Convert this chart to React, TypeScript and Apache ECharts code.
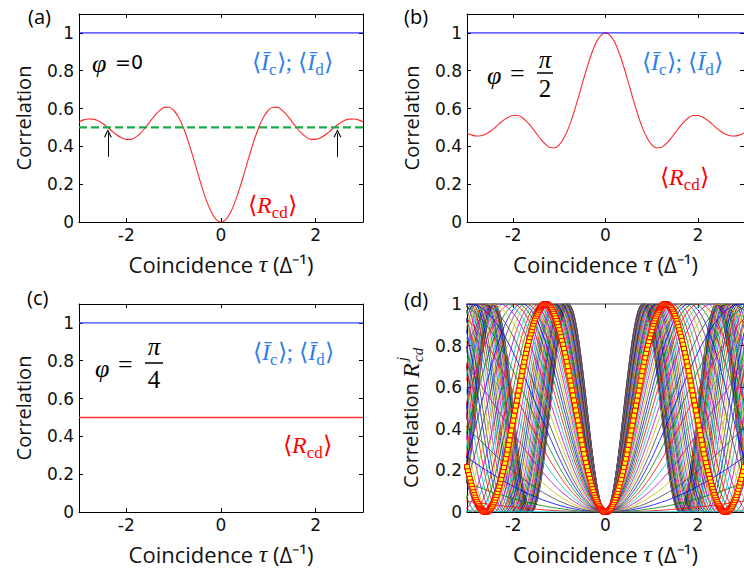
import React, { useEffect, useRef } from "react";
import * as echarts from "echarts";

// ---------- data ----------
const TAU = [
  -3.0, -2.9, -2.8, -2.7, -2.6, -2.5, -2.4, -2.3, -2.2, -2.1, -2.0, -1.9, -1.8, -1.7, -1.6, -1.5,
  -1.4, -1.3, -1.2, -1.1, -1.0, -0.9, -0.8, -0.7, -0.6, -0.5, -0.4, -0.3, -0.2, -0.1, 0.0, 0.1,
  0.2, 0.3, 0.4, 0.5, 0.6, 0.7, 0.8, 0.9, 1.0, 1.1, 1.2, 1.3, 1.4, 1.5, 1.6, 1.7, 1.8, 1.9, 2.0,
  2.1, 2.2, 2.3, 2.4, 2.5, 2.6, 2.7, 2.8, 2.9, 3.0,
];
// (a) phi = 0 : <R_cd>
const R_PHI0 = [
  0.529, 0.540, 0.545, 0.544, 0.536, 0.521, 0.502, 0.480, 0.460, 0.445, 0.437, 0.437, 0.449, 0.470,
  0.498, 0.531, 0.563, 0.589, 0.606, 0.607, 0.591, 0.555, 0.502, 0.432, 0.352, 0.266, 0.183, 0.109,
  0.050, 0.013, 0.000, 0.013, 0.050, 0.109, 0.183, 0.266, 0.352, 0.432, 0.502, 0.555, 0.591, 0.607,
  0.606, 0.589, 0.563, 0.531, 0.498, 0.470, 0.449, 0.437, 0.437, 0.445, 0.460, 0.480, 0.502, 0.521,
  0.536, 0.544, 0.545, 0.540, 0.529,
];
// (b) phi = pi/2 : <R_cd>
const R_PHI_HALF = [
  0.471, 0.460, 0.455, 0.456, 0.464, 0.479, 0.498, 0.520, 0.540, 0.555, 0.563, 0.563, 0.551, 0.530,
  0.502, 0.469, 0.437, 0.411, 0.394, 0.393, 0.409, 0.445, 0.498, 0.568, 0.648, 0.734, 0.817, 0.891,
  0.950, 0.987, 1.000, 0.987, 0.950, 0.891, 0.817, 0.734, 0.648, 0.568, 0.498, 0.445, 0.409, 0.393,
  0.394, 0.411, 0.437, 0.469, 0.502, 0.530, 0.551, 0.563, 0.563, 0.555, 0.540, 0.520, 0.498, 0.479,
  0.464, 0.456, 0.455, 0.460, 0.471,
];
const TAU_SPAN = [-3, 3];
const I_MEAN = [1, 1];
const HALF_LEVEL = [0.5, 0.5];
const R_PHI_QUARTER = [0.5, 0.5];
const ARROW_TAU = [-2.39, 2.46];
const ARROW_Y = [0.345, 0.47];

// (d) one rising half-lobe of the highlighted R_cd^j curve, read every 0.02 in tau (0 .. 1.30)
const LOBE_STEP = 0.02;
const LOBE = [
  0.000, 0.001, 0.002, 0.005, 0.009, 0.015, 0.021, 0.028, 0.037, 0.047, 0.057, 0.069, 0.082, 0.095,
  0.110, 0.126, 0.142, 0.159, 0.178, 0.196, 0.216, 0.236, 0.257, 0.278, 0.300, 0.323, 0.345, 0.369,
  0.392, 0.416, 0.440, 0.464, 0.488, 0.512, 0.536, 0.560, 0.584, 0.608, 0.631, 0.655, 0.677, 0.700,
  0.722, 0.743, 0.764, 0.784, 0.804, 0.822, 0.841, 0.858, 0.874, 0.890, 0.905, 0.918, 0.931, 0.943,
  0.953, 0.963, 0.972, 0.979, 0.985, 0.991, 0.995, 0.998, 0.999, 1.000,
];
// tau of the first maximum of each curve j in panel (d)
const FAMILY_PEAKS = [
  0.800, 0.801, 0.802, 0.803, 0.806, 0.808, 0.812, 0.816, 0.820, 0.825, 0.831, 0.838, 0.845, 0.853,
  0.861, 0.871, 0.881, 0.892, 0.904, 0.917, 0.931, 0.946, 0.962, 0.980, 0.998, 1.019, 1.041, 1.064,
  1.089, 1.117, 1.146, 1.179, 1.213, 1.251, 1.292, 1.337, 1.386, 1.440, 1.499, 1.565, 1.637, 1.718,
  1.809, 1.911, 2.027, 2.159, 2.311, 2.489, 2.698, 2.947, 3.250, 3.625, 4.101, 4.724, 5.575, 6.806,
  8.743, 12.23, 20.38, 61.1,
];
const HIGHLIGHT_PEAK = 1.3;
const FAMILY_COLORS = ["#0000ff", "#008000", "#ff0000", "#00bfbf", "#bf00bf", "#bfbf00", "#404040"];

const X_TICKS = [-2, 0, 2];

// ---------- styling ----------
const FONT_TICK = "DejaVu Sans";
const FONT_NAME = "Open Sans";
const FONT_MATH = "Liberation Serif";
const BLUE_TXT = "#2f7fe6";
const RED_TXT = "#ff0000";

const GRIDS = [
  { left: 79, top: 14, width: 284, height: 208 },
  { left: 467, top: 14, width: 281, height: 208 },
  { left: 79, top: 304, width: 284, height: 208 },
  { left: 467, top: 304, width: 281, height: 208 },
];
const Y_MAX = [1.1, 1.1, 1.1, 1];

function zip(xs: number[], ys: number[]) {
  return xs.map((x, i) => [x, ys[i]]);
}

function lobeCurve(peak: number, stride: number, xMax: number) {
  const n = LOBE.length - 1;
  const dt = (peak / (n * LOBE_STEP)) * LOBE_STEP;
  const right: number[][] = [];
  for (let m = 0; ; m += stride) {
    const t = m * dt;
    const ph = m % (2 * n);
    const v = ph <= n ? LOBE[ph] : LOBE[2 * n - ph];
    right.push([t, v]);
    if (t > xMax) break;
  }
  const left = right
    .slice(1)
    .map(([t, v]) => [-t, v])
    .reverse();
  return left.concat(right);
}

function txt(x: number, y: number, text: string, o: any) {
  const align = o.align || "left";
  return {
    type: "text",
    x,
    y,
    silent: true,
    z: 100,
    style: {
      text,
      fill: o.fill || "#000",
      fontFamily: o.family,
      fontSize: o.size,
      fontStyle: o.italic ? "italic" : "normal",
      align,
      textAlign: align,
      verticalAlign: "middle",
      textVerticalAlign: "middle",
      rich: o.rich,
    },
  };
}

function mathRich(color: string) {
  return {
    i: { fontFamily: FONT_MATH, fontSize: 24, fontStyle: "italic", fill: color, color },
    s: { fontFamily: FONT_MATH, fontSize: 17, fill: color, color, padding: [14, 0, 0, 0] },
  };
}

const CHEVRON = "path://M5,0 L10,9 L8.4,9 L5,2.8 L1.6,9 L0,9 Z";

function buildOption() {
  const xAxis: any[] = [];
  const yAxis: any[] = [];
  GRIDS.forEach((_, g) => {
    const isD = g === 3;
    xAxis.push({
      type: "value",
      gridIndex: g,
      position: "bottom",
      min: -3,
      max: 3,
      axisLine: { show: true, onZero: false, lineStyle: { color: "#000", width: 1 } },
      axisTick: { show: true, inside: true, length: 4, customValues: X_TICKS, lineStyle: { color: "#000" } },
      axisLabel: { show: true, customValues: X_TICKS, margin: 4, fontFamily: FONT_TICK, fontSize: 17, color: "#111" },
      splitLine: { show: false },
      name: "Coincidence {t|τ} (Δ⁻¹)",
      nameLocation: "middle",
      nameGap: 30,
      nameTextStyle: {
        fontFamily: FONT_NAME,
        fontSize: 22,
        color: "#111",
        rich: { t: { fontFamily: FONT_MATH, fontStyle: "italic", fontSize: 24, color: "#111" } },
      },
    });
    xAxis.push({
      type: "value",
      gridIndex: g,
      position: "top",
      min: -3,
      max: 3,
      axisLine: { show: true, onZero: false, lineStyle: { color: isD ? "#777" : "#000", width: isD ? 1.5 : 1 } },
      axisTick: { show: true, inside: true, length: 4, customValues: X_TICKS, lineStyle: { color: "#000" } },
      axisLabel: { show: false },
      splitLine: { show: false },
    });
    yAxis.push({
      type: "value",
      gridIndex: g,
      position: "left",
      min: 0,
      max: Y_MAX[g],
      interval: 0.2,
      axisLine: { show: true, onZero: false, lineStyle: { color: "#000", width: 1 } },
      axisTick: { show: true, inside: true, length: 4, lineStyle: { color: "#000" } },
      axisLabel: {
        show: true,
        margin: 5,
        showMaxLabel: isD,
        fontFamily: FONT_TICK,
        fontSize: 17,
        color: "#111",
      },
      splitLine: { show: false },
      name: isD ? "" : "Correlation",
      nameLocation: "middle",
      nameGap: 46,
      nameTextStyle: { fontFamily: FONT_NAME, fontSize: 20, color: "#111" },
    });
    yAxis.push({
      type: "value",
      gridIndex: g,
      position: "right",
      min: 0,
      max: Y_MAX[g],
      interval: 0.2,
      axisLine: { show: true, onZero: false, lineStyle: { color: "#000", width: 1 } },
      axisTick: { show: true, inside: true, length: 4, lineStyle: { color: "#000" } },
      axisLabel: { show: false },
      splitLine: { show: false },
    });
  });

  const line = (g: number, data: number[][], color: string, width: number, extra: any = {}) => ({
    type: "line",
    xAxisIndex: 2 * g,
    yAxisIndex: 2 * g,
    data,
    showSymbol: false,
    silent: true,
    clip: true,
    lineStyle: { color, width },
    itemStyle: { color },
    ...extra,
  });

  const series: any[] = [];
  // (a)
  series.push(line(0, zip(TAU, R_PHI0), "#ff2a2a", 1.1, { smooth: 0.4 }));
  series.push(line(0, zip(TAU_SPAN, I_MEAN), "#0000ff", 1));
  series.push(
    line(0, zip(TAU_SPAN, HALF_LEVEL), "#1faa4a", 2.2, {
      lineStyle: { color: "#1faa4a", width: 2.2, type: [8, 4] },
      markLine: {
        silent: true,
        symbol: ["none", CHEVRON],
        symbolSize: 8,
        label: { show: false },
        lineStyle: { color: "#000", width: 1, type: "solid" },
        itemStyle: { color: "#000" },
        data: ARROW_TAU.map((t) => [{ coord: [t, ARROW_Y[0]] }, { coord: [t, ARROW_Y[1]] }]),
      },
    })
  );
  // (b)
  series.push(line(1, zip(TAU, R_PHI_HALF), "#ff2a2a", 1.1, { smooth: 0.4 }));
  series.push(line(1, zip(TAU_SPAN, I_MEAN), "#0000ff", 1));
  // (c)
  series.push(line(2, zip(TAU_SPAN, I_MEAN), "#3a4cff", 1.4));
  series.push(line(2, zip(TAU_SPAN, R_PHI_QUARTER), "#ff3030", 1.4));
  // (d)
  FAMILY_PEAKS.forEach((p, j) => {
    series.push(line(3, lobeCurve(p, p < 1.5 ? 2 : 1, 3), FAMILY_COLORS[j % FAMILY_COLORS.length], 0.8));
  });
  series.push(
    line(3, lobeCurve(HIGHLIGHT_PEAK, 1, 3), "#ff0000", 1.6, {
      showSymbol: true,
      symbol: "rect",
      symbolSize: 5,
      itemStyle: { color: "#ffff00", borderColor: "#ff0000", borderWidth: 1 },
      z: 5,
    })
  );

  const graphic: any[] = [
    // panel letters
    txt(28, 16, "(a)", { family: FONT_NAME, size: 20 }),
    txt(404, 16, "(b)", { family: FONT_NAME, size: 20 }),
    txt(27, 297, "(c)", { family: FONT_NAME, size: 20 }),
    txt(404, 299, "(d)", { family: FONT_NAME, size: 20 }),
    // (a)
    txt(92, 63, "φ", { family: FONT_MATH, size: 26, italic: true }),
    txt(115, 62, "=0", { family: FONT_TICK, size: 19 }),
    txt(252, 62, "⟨{i|Ī}{s|c}⟩; ⟨{i|Ī}{s|d}⟩", { family: FONT_MATH, size: 24, fill: BLUE_TXT, rich: mathRich(BLUE_TXT) }),
    txt(248, 205, "⟨{i|R}{s|cd}⟩", { family: FONT_MATH, size: 24, fill: RED_TXT, rich: mathRich(RED_TXT) }),
    // (b)
    txt(487, 75, "φ", { family: FONT_MATH, size: 26, italic: true }),
    txt(510, 73, "=", { family: FONT_MATH, size: 26 }),
    txt(545, 59, "π", { family: FONT_MATH, size: 25, italic: true, align: "center" }),
    { type: "line", silent: true, z: 100, shape: { x1: 537, y1: 73, x2: 553, y2: 73 }, style: { stroke: "#000", lineWidth: 1.5 } },
    txt(545, 88, "2", { family: FONT_MATH, size: 25, align: "center" }),
    txt(642, 62, "⟨{i|Ī}{s|c}⟩; ⟨{i|Ī}{s|d}⟩", { family: FONT_MATH, size: 24, fill: BLUE_TXT, rich: mathRich(BLUE_TXT) }),
    txt(660, 177, "⟨{i|R}{s|cd}⟩", { family: FONT_MATH, size: 24, fill: RED_TXT, rich: mathRich(RED_TXT) }),
    // (c)
    txt(95, 368, "φ", { family: FONT_MATH, size: 26, italic: true }),
    txt(118, 364, "=", { family: FONT_MATH, size: 26 }),
    txt(154, 346, "π", { family: FONT_MATH, size: 25, italic: true, align: "center" }),
    { type: "line", silent: true, z: 100, shape: { x1: 145, y1: 363, x2: 163, y2: 363 }, style: { stroke: "#000", lineWidth: 1.5 } },
    txt(154, 379, "4", { family: FONT_MATH, size: 25, align: "center" }),
    txt(253, 352, "⟨{i|Ī}{s|c}⟩; ⟨{i|Ī}{s|d}⟩", { family: FONT_MATH, size: 24, fill: BLUE_TXT, rich: mathRich(BLUE_TXT) }),
    txt(283, 445, "⟨{i|R}{s|cd}⟩", { family: FONT_MATH, size: 24, fill: RED_TXT, rich: mathRich(RED_TXT) }),
    // (d) y-axis title
    {
      type: "group",
      x: 410,
      y: 488,
      rotation: Math.PI / 2,
      silent: true,
      children: [
        txt(0, 0, "Correlation", { family: FONT_NAME, size: 20, fill: "#111" }),
        txt(110, 1, "R", { family: FONT_MATH, size: 24, italic: true, fill: "#111" }),
        txt(127, -8, "j", { family: FONT_MATH, size: 15, italic: true, fill: "#111" }),
        txt(126, 8, "cd", { family: FONT_MATH, size: 15, italic: true, fill: "#111" }),
      ],
    },
  ];

  return {
    animation: false,
    backgroundColor: "#fff",
    grid: GRIDS.map((g) => ({ ...g, containLabel: false })),
    xAxis,
    yAxis,
    series,
    graphic,
  };
}

export default function App() {
  const ref = useRef<HTMLDivElement>(null);
  useEffect(() => {
    if (!ref.current) return;
    const chart = echarts.init(ref.current, undefined, { renderer: "svg" });
    chart.setOption(buildOption() as any);
    return () => chart.dispose();
  }, []);
  return (
    <div
      ref={ref}
      style={{ position: "absolute", left: 0, top: 0, width: 744, height: 576, background: "#fff" }}
    />
  );
}
